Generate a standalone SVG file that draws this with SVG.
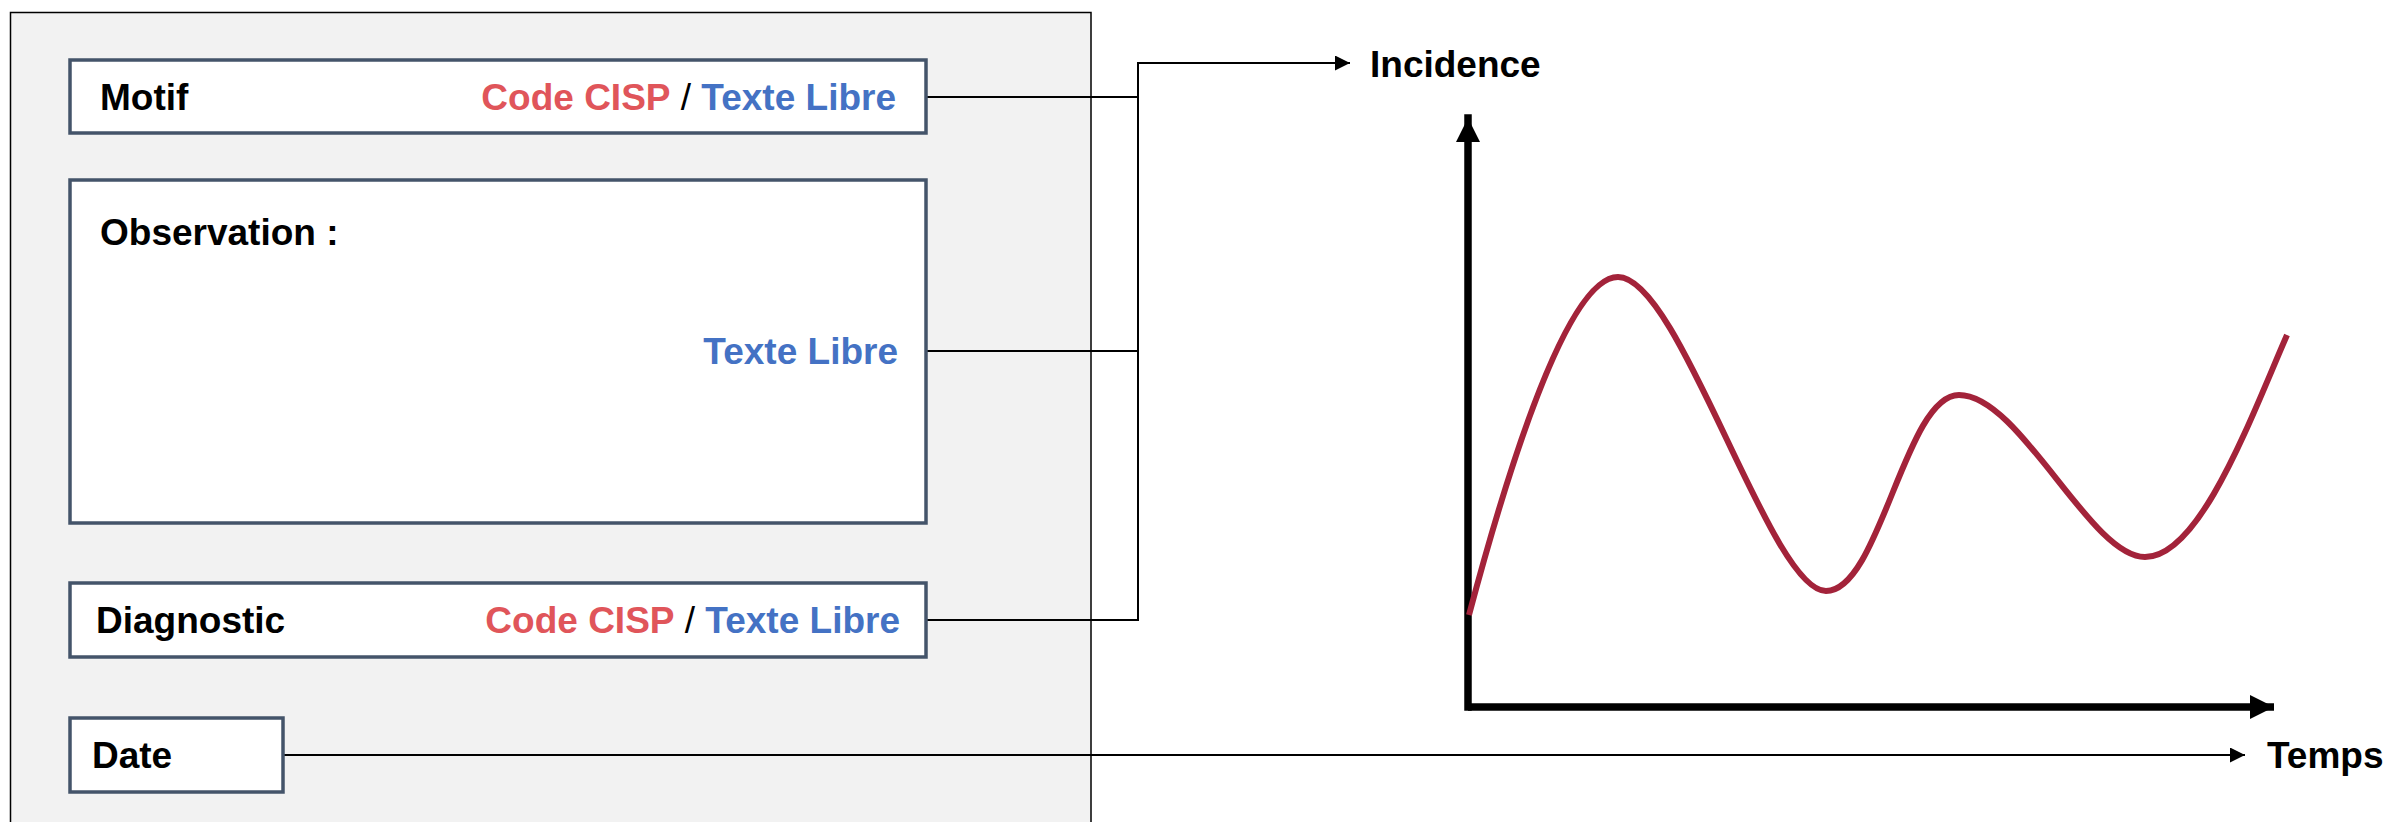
<svg xmlns="http://www.w3.org/2000/svg" width="2390" height="822" viewBox="0 0 2390 822">
<style>
text{font-family:"Liberation Sans",Arial,sans-serif;font-weight:bold;font-size:37px;fill:#000}
.box{fill:#fff;stroke:#44546a;stroke-width:3.5}
.red{fill:#e0555a}
.blue{fill:#4472c4}
.sl{font-weight:normal}
.conn{fill:none;stroke:#000;stroke-width:2}
.axis{fill:none;stroke:#000;stroke-width:7.5}
</style>
<defs>
<marker id="arr" viewBox="0 0 10 10" refX="10" refY="5" markerWidth="15" markerHeight="15" markerUnits="userSpaceOnUse" orient="auto"><path d="M0,0 L10,5 L0,10 z" fill="#000"/></marker>
<marker id="bigarr" viewBox="0 0 10 10" refX="10" refY="5" markerWidth="24" markerHeight="24" markerUnits="userSpaceOnUse" orient="auto"><path d="M0,0 L10,5 L0,10 z" fill="#000"/></marker>
</defs>
<g id="panel"><rect x="10.5" y="12.5" width="1080.5" height="830" fill="#f2f2f2" stroke="#000" stroke-width="1.5"/></g>
<g id="connectors">
<path class="conn" d="M926,97 H1138"/>
<path class="conn" d="M926,351 H1138"/>
<path class="conn" d="M926,620 H1138 V63 H1350" marker-end="url(#arr)"/>
<path class="conn" d="M283,755 H2245" marker-end="url(#arr)"/>
</g>
<g id="motif"><rect class="box" x="70" y="60" width="856" height="73"/><text x="100" y="110">Motif</text><text x="896" y="110" text-anchor="end"><tspan class="red">Code CISP</tspan><tspan class="sl"> / </tspan><tspan class="blue">Texte Libre</tspan></text></g>
<g id="observation"><rect class="box" x="70" y="180" width="856" height="343"/><text x="100" y="245">Observation :</text><text x="898" y="364" text-anchor="end" class="blue">Texte Libre</text></g>
<g id="diagnostic"><rect class="box" x="70" y="583" width="856" height="74"/><text x="96" y="633">Diagnostic</text><text x="900" y="633" text-anchor="end"><tspan class="red">Code CISP</tspan><tspan class="sl"> / </tspan><tspan class="blue">Texte Libre</tspan></text></g>
<g id="date"><rect class="box" x="70" y="718" width="213" height="74"/><text x="92" y="768">Date</text></g>
<g id="incidence"><text x="1370" y="77">Incidence</text></g>
<g id="temps"><text x="2267" y="768">Temps</text></g>
<g id="chart">
<path class="axis" d="M1468,707 V118" marker-end="url(#bigarr)" stroke-linecap="square"/>
<path class="axis" d="M1468,707 H2274" marker-end="url(#bigarr)"/>
<path d="M1469,615 C1505,480 1566,277 1618,277 C1680,277 1770,591 1826,591 C1880,591 1905,395 1959,395 C2020,395 2090,557 2145,557 C2200,557 2250,420 2287,335" fill="none" stroke="#a3233a" stroke-width="6"/>
</g>
</svg>
